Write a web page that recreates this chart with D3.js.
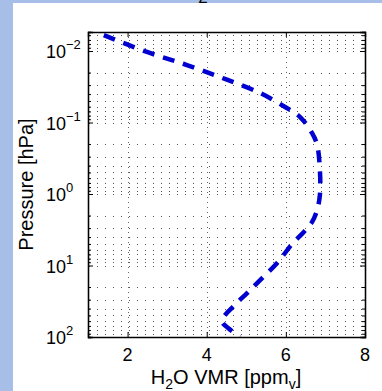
<!DOCTYPE html>
<html>
<head>
<meta charset="utf-8">
<script src="https://cdn.jsdelivr.net/npm/d3@7"></script>
<style>
  body { margin: 0; background: #a6bee8; }
  svg { display: block; font-family: "Liberation Sans", Arial, sans-serif; }
</style>
</head>
<body>
<svg width="382" height="391"></svg>
<script>
// H2O VMR profile
var vmr = [1.40, 2.49, 3.50, 4.46, 5.35, 5.98, 6.36, 6.66, 6.79, 6.86, 6.86, 6.79,
  6.66, 6.43, 6.18, 5.78, 5.35, 5.02, 4.71, 4.41, 4.39, 4.54, 4.84];
var pressure = [0.0060, 0.0103, 0.0157, 0.0246, 0.0387, 0.0607, 0.0838, 0.140, 0.206,
  0.461, 1.03, 1.67, 2.47, 3.51, 4.84, 9.2, 16.0, 24.3, 35.7, 54.2, 61.7, 74.8, 100];
var xTicks = [2, 4, 6, 8];
var yTicks = [1e-2, 1e-1, 1, 10, 100];
var yTickExp = ["-2", "-1", "0", "1", "2"];

var svg = d3.select("svg");
var pLeft = 88, pRight = 365, pTop = 32, pBottom = 337;

// white panel
svg.append("rect").attr("x", 13).attr("y", 3).attr("width", 369).attr("height", 388)
  .style("fill", "white");

// clipped title fragment
svg.append("text").attr("x", 203).attr("y", 3).attr("text-anchor", "middle")
  .style("font-size", "17px").text("2");

var xScale = d3.scaleLinear().domain([1, 8]).range([pLeft, pRight]);
var yScale = d3.scaleLog().domain([100, Math.pow(10, -2.266)]).range([pBottom, pTop]);

// grid
var minorY = [];
for (var e = -3; e <= 2; e++) {
  for (var m = 1; m <= 9; m++) {
    var v = m * Math.pow(10, e);
    if (v >= yScale.domain()[1] && v <= 100) minorY.push(v);
  }
}
svg.append("g").selectAll("line").data(minorY).enter().append("line")
  .attr("x1", pLeft + 1).attr("x2", pRight)
  .attr("y1", function (d) { return Math.round(yScale(d)) + 0.5; })
  .attr("y2", function (d) { return Math.round(yScale(d)) + 0.5; })
  .style("stroke", "#555").style("stroke-width", "1px").style("stroke-dasharray", "1,7");

svg.append("g").selectAll("line").data([2, 4, 6]).enter().append("line")
  .attr("x1", function (d) { return Math.round(xScale(d)) + 0.5; })
  .attr("x2", function (d) { return Math.round(xScale(d)) + 0.5; })
  .attr("y1", pTop).attr("y2", pBottom)
  .style("stroke", "#666").style("stroke-width", "1px").style("stroke-dasharray", "1,4");

// axes with inward ticks
var xAxis = d3.axisBottom(xScale).tickValues(xTicks).tickSize(-5).tickFormat("");
svg.append("g").attr("transform", "translate(0," + pBottom + ")").call(xAxis);
svg.append("g").attr("transform", "translate(0," + pTop + ")")
  .call(d3.axisTop(xScale).tickValues(xTicks).tickSize(-5).tickFormat(""));

var yAxis = d3.axisLeft(yScale).tickValues(yTicks).tickSize(-5).tickFormat("");
svg.append("g").attr("transform", "translate(" + pLeft + ",0)").call(yAxis);
svg.append("g").attr("transform", "translate(" + pRight + ",0)")
  .call(d3.axisRight(yScale).tickValues(yTicks).tickSize(-5).tickFormat(""));

// minor log ticks
var minorOnly = minorY.filter(function (d) { return yTicks.indexOf(d) < 0; });
svg.append("g").attr("transform", "translate(" + pLeft + ",0)")
  .call(d3.axisLeft(yScale).tickValues(minorOnly).tickSize(-3).tickFormat(""));
svg.append("g").attr("transform", "translate(" + pRight + ",0)")
  .call(d3.axisRight(yScale).tickValues(minorOnly).tickSize(-3).tickFormat(""));

svg.selectAll(".domain").style("stroke", "black").style("stroke-width", "1.3px");
svg.selectAll(".tick line").style("stroke", "black");

// tick labels
svg.append("g").selectAll("text").data(xTicks).enter().append("text")
  .attr("x", function (d) { return xScale(d); })
  .attr("y", 361)
  .attr("text-anchor", "middle")
  .style("font-size", "18px")
  .text(function (d) { return d; });

var yl = svg.append("g").selectAll("text").data(yTicks).enter().append("text")
  .attr("x", 46)
  .attr("y", function (d) { return yScale(d) + 7; })
  .style("font-size", "18px");
yl.append("tspan").text("10");
yl.append("tspan").attr("dy", -9).style("font-size", "13px")
  .text(function (d, i) { return yTickExp[i].replace("-", "\u2212"); });

// axis labels
var xl = svg.append("text").attr("x", 226).attr("y", 384)
  .attr("text-anchor", "middle").style("font-size", "20px");
xl.append("tspan").text("H");
xl.append("tspan").attr("dy", 5).style("font-size", "14px").text("2");
xl.append("tspan").attr("dy", -5).text("O VMR [ppm");
xl.append("tspan").attr("dy", 5).style("font-size", "14px").text("v");
xl.append("tspan").attr("dy", -5).text("]");

svg.append("text")
  .attr("transform", "translate(33," + ((pTop + pBottom) / 2) + ") rotate(-90)")
  .attr("text-anchor", "middle").style("font-size", "20px")
  .text("Pressure [hPa]");

// profile
svg.append("clipPath").attr("id", "clip").append("rect")
  .attr("x", pLeft).attr("y", pTop).attr("width", pRight - pLeft).attr("height", pBottom - pTop);

var line = d3.line()
  .x(function (d, i) { return xScale(vmr[i]); })
  .y(function (d, i) { return yScale(pressure[i]); })
  .curve(d3.curveCatmullRom);

svg.append("path")
  .datum(vmr)
  .attr("d", line)
  .attr("clip-path", "url(#clip)")
  .style("fill", "none")
  .style("stroke", "#0000d0")
  .style("stroke-width", "4.5px")
  .style("stroke-dasharray", "12,9");
</script>
</body>
</html>
